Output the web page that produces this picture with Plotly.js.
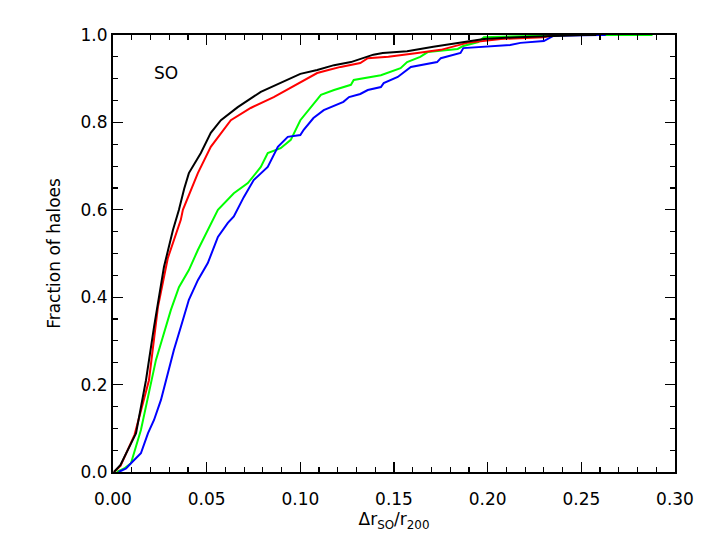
<!DOCTYPE html>
<html>
<head>
<meta charset="utf-8">
<script src="https://cdn.plot.ly/plotly-3.0.1.min.js"></script>
<style>html,body{margin:0;padding:0;background:#fff;}</style>
</head>
<body>
<div id="chart" style="width:709px;height:550px;"></div>
<script>
var blackX = [0.0005,0.004,0.0123,0.0176,0.0219,0.0245,0.0272,0.032,0.0336,0.0352,0.038,0.0405,0.0469,0.0522,0.0576,0.0666,0.0789,0.0933,0.100,0.109,0.118,0.127,0.139,0.144,0.157,0.171,0.184,0.198,0.216,0.233,0.251,0.258];
var blackY = [0,0.016,0.089,0.21,0.332,0.40,0.469,0.554,0.577,0.60,0.648,0.684,0.73,0.776,0.805,0.835,0.87,0.897,0.911,0.92,0.931,0.938,0.955,0.959,0.963,0.973,0.982,0.991,0.995,0.998,1.0,1.0];

var redX = [0.0005,0.004,0.0115,0.0192,0.024,0.0293,0.0362,0.0373,0.0453,0.0522,0.0629,0.0735,0.0858,0.100,0.109,0.115,0.1215,0.132,0.136,0.147,0.153,0.1625,0.175,0.189,0.207,0.224,0.23,0.235,0.245];
var redY = [0,0.014,0.085,0.21,0.378,0.49,0.577,0.60,0.684,0.744,0.805,0.833,0.858,0.892,0.913,0.92,0.927,0.936,0.947,0.95,0.954,0.959,0.966,0.982,0.991,0.993,0.995,1.0,1.0];

var greenX = [0.002,0.006,0.0096,0.0149,0.0187,0.0229,0.0266,0.0309,0.0352,0.0405,0.0453,0.0506,0.0538,0.056,0.0645,0.072,0.0789,0.0826,0.0895,0.0949,0.100,0.1055,0.111,0.118,0.127,0.1285,0.139,0.143,0.1535,0.157,0.164,0.168,0.184,0.187,0.195,0.198,0.207,0.224,0.242,0.288];
var greenY = [0,0.008,0.02,0.096,0.172,0.256,0.309,0.371,0.423,0.462,0.508,0.554,0.583,0.60,0.638,0.661,0.698,0.73,0.741,0.76,0.805,0.835,0.863,0.874,0.886,0.897,0.904,0.908,0.924,0.938,0.95,0.961,0.968,0.975,0.984,0.995,0.996,0.998,1.0,1.0];

var blueX = [0.003,0.007,0.0096,0.0149,0.0187,0.0219,0.0256,0.0293,0.0325,0.0362,0.0405,0.0453,0.0506,0.056,0.0613,0.0645,0.0698,0.0751,0.0826,0.088,0.0933,0.100,0.1018,0.107,0.1125,0.123,0.126,0.132,0.136,0.143,0.1445,0.152,0.159,0.173,0.175,0.1855,0.187,0.212,0.2175,0.23,0.235,0.26,0.263];
var blueY = [0,0.008,0.02,0.043,0.089,0.119,0.165,0.226,0.279,0.332,0.394,0.439,0.478,0.538,0.57,0.585,0.629,0.668,0.698,0.744,0.767,0.771,0.783,0.81,0.828,0.847,0.858,0.865,0.874,0.881,0.89,0.904,0.927,0.938,0.947,0.959,0.97,0.977,0.982,0.986,0.998,1.0,1.0];

var xTickVals = [0,0.05,0.10,0.15,0.20,0.25,0.30];
var xTickText = ['0.00','0.05','0.10','0.15','0.20','0.25','0.30'];
var yTickVals = [0,0.2,0.4,0.6,0.8,1.0];
var yTickText = ['0.0','0.2','0.4','0.6','0.8','1.0'];

var series = [
  {x: greenX, y: greenY, color: '#00ff00'},
  {x: blueX, y: blueY, color: '#0000ff'},
  {x: redX, y: redY, color: '#ff0000'},
  {x: blackX, y: blackY, color: '#000000'}
];

var traces = series.map(function(s){
  return {x: s.x, y: s.y, type: 'scatter', mode: 'lines',
    line: {color: s.color, width: 2}, showlegend: false, hoverinfo: 'skip'};
});

var font = {family: 'DejaVu Sans, sans-serif', size: 17, color: '#000'};

var layout = {
  width: 709, height: 550,
  margin: {l: 113, r: 34, t: 35, b: 78},
  paper_bgcolor: '#fff', plot_bgcolor: '#fff',
  font: font,
  showlegend: false,
  xaxis: {
    range: [0, 0.30], tickvals: xTickVals, ticktext: xTickText,
    ticks: 'inside', ticklen: 10, tickwidth: 1.2, tickcolor: '#000',
    showline: true, linecolor: '#000', linewidth: 2, mirror: 'allticks',
    showgrid: false, zeroline: false, ticklabelstandoff: 11,
    minor: {dtick: 0.01, tick0: 0, ticks: 'inside', ticklen: 5, tickwidth: 1.2, tickcolor: '#000', showgrid: false},
    tickfont: font,
    title: {text: 'Δr<sub>SO</sub>/r<sub>200</sub>', font: font, standoff: 4}
  },
  yaxis: {
    range: [0, 1.0], tickvals: yTickVals, ticktext: yTickText,
    ticks: 'inside', ticklen: 10, tickwidth: 1.2, tickcolor: '#000',
    showline: true, linecolor: '#000', linewidth: 2, mirror: 'allticks',
    showgrid: false, zeroline: false,
    minor: {dtick: 0.05, tick0: 0, ticks: 'inside', ticklen: 5, tickwidth: 1.2, tickcolor: '#000', showgrid: false},
    tickfont: font,
    title: {text: 'Fraction of haloes', font: font, standoff: 16}
  },
  annotations: [
    {x: 0.0208, y: 0.912, xref: 'x', yref: 'y', text: 'SO', showarrow: false,
     xanchor: 'left', yanchor: 'middle', font: font}
  ]
};

Plotly.newPlot('chart', traces, layout, {displayModeBar: false, staticPlot: true});
</script>
</body>
</html>
